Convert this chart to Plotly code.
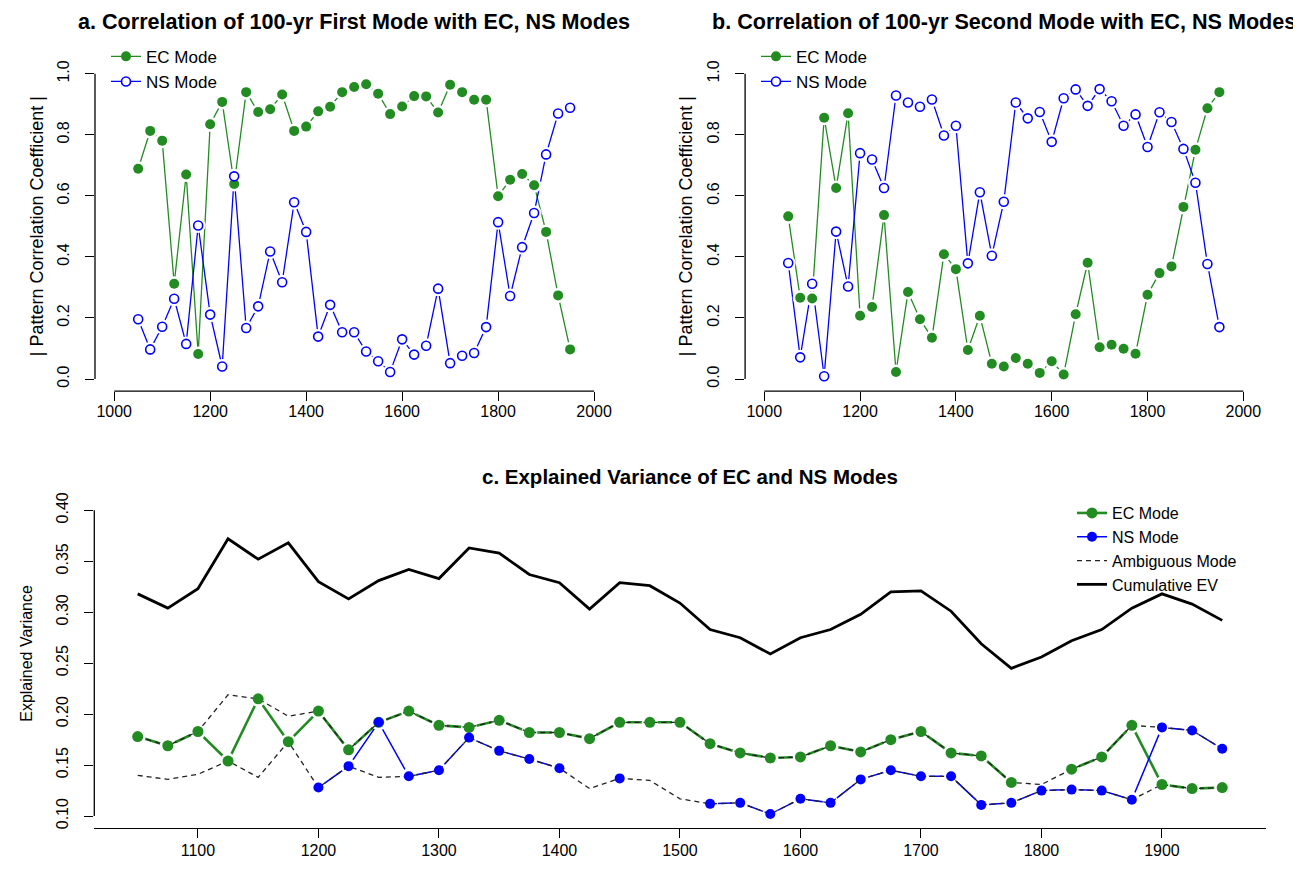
import plotly.graph_objects as go

# ---------------- data ----------------
years = list(range(1050, 1951, 25))

# panel a: |pattern correlation| of 100-yr first mode
a_ec = [0.689, 0.813, 0.781, 0.312, 0.670, 0.082, 0.835, 0.908, 0.639, 0.940,
        0.875, 0.884, 0.932, 0.813, 0.827, 0.877, 0.892, 0.940, 0.957, 0.966,
        0.935, 0.868, 0.893, 0.927, 0.926, 0.873, 0.964, 0.940, 0.915, 0.915,
        0.599, 0.653, 0.672, 0.635, 0.482, 0.274, 0.097]
a_ns = [0.196, 0.097, 0.171, 0.263, 0.115, 0.503, 0.211, 0.041, 0.664, 0.167,
        0.238, 0.418, 0.317, 0.579, 0.482, 0.139, 0.243, 0.153, 0.153, 0.090,
        0.058, 0.023, 0.130, 0.080, 0.109, 0.296, 0.052, 0.076, 0.085, 0.170,
        0.514, 0.272, 0.432, 0.544, 0.736, 0.870, 0.889]

# panel b: |pattern correlation| of 100-yr second mode
b_ec = [0.533, 0.266, 0.264, 0.856, 0.626, 0.871, 0.207, 0.236, 0.537, 0.023,
        0.285, 0.196, 0.135, 0.409, 0.360, 0.095, 0.207, 0.050, 0.041, 0.069,
        0.050, 0.020, 0.058, 0.015, 0.212, 0.381, 0.104, 0.112, 0.099, 0.083,
        0.276, 0.347, 0.369, 0.564, 0.751, 0.887, 0.940]
b_ns = [0.380, 0.071, 0.312, 0.009, 0.483, 0.303, 0.740, 0.719, 0.626, 0.929,
        0.906, 0.892, 0.916, 0.798, 0.830, 0.379, 0.612, 0.404, 0.581, 0.906,
        0.854, 0.875, 0.777, 0.920, 0.949, 0.895, 0.950, 0.910, 0.830, 0.867,
        0.760, 0.874, 0.842, 0.754, 0.643, 0.377, 0.170]

# panel c: explained variance
ev_mode1 = [0.178, 0.169, 0.183, 0.219, 0.215, 0.198, 0.203, 0.165, 0.192, 0.203,
            0.189, 0.187, 0.194, 0.182, 0.182, 0.176, 0.192, 0.192, 0.192, 0.171,
            0.162, 0.157, 0.158, 0.169, 0.163, 0.175, 0.183, 0.162, 0.159, 0.133,
            0.131, 0.146, 0.158, 0.189, 0.187, 0.184, 0.166]
ev_mode2 = [0.140, 0.136, 0.141, 0.154, 0.138, 0.173, 0.128, 0.149, 0.138, 0.139,
            0.145, 0.177, 0.164, 0.156, 0.147, 0.127, 0.137, 0.135, 0.117, 0.112,
            0.113, 0.102, 0.117, 0.113, 0.136, 0.145, 0.139, 0.139, 0.111, 0.113,
            0.125, 0.126, 0.125, 0.116, 0.131, 0.127, 0.128]
ev_ec = [0.178, 0.169, 0.183, 0.154, 0.215, 0.173, 0.203, 0.165, 0.192, 0.203,
         0.189, 0.187, 0.194, 0.182, 0.182, 0.176, 0.192, 0.192, 0.192, 0.171,
         0.162, 0.157, 0.158, 0.169, 0.163, 0.175, 0.183, 0.162, 0.159, 0.133,
         None, 0.146, 0.158, 0.189, 0.131, 0.127, 0.128]
ev_ns = [None, None, None, None, None, None, 0.128, 0.149, 0.192, 0.139,
         0.145, 0.177, 0.164, 0.156, 0.147, None, 0.137, None, None, 0.112,
         0.113, 0.102, 0.117, 0.113, 0.136, 0.145, 0.139, 0.139, 0.111, 0.113,
         0.125, 0.126, 0.125, 0.116, 0.187, 0.184, 0.166]
ev_cum = [0.318, 0.304, 0.323, 0.372, 0.352, 0.368, 0.330, 0.313, 0.331, 0.342,
          0.333, 0.363, 0.358, 0.337, 0.329, 0.303, 0.329, 0.326, 0.309, 0.283,
          0.275, 0.259, 0.275, 0.283, 0.298, 0.320, 0.321, 0.301, 0.269, 0.245,
          0.256, 0.272, 0.283, 0.304, 0.318, 0.308, 0.292]

corr_ticks = [0.0, 0.2, 0.4, 0.6, 0.8, 1.0]
corr_year_ticks = [1000, 1200, 1400, 1600, 1800, 2000]
ev_ticks = [0.10, 0.15, 0.20, 0.25, 0.30, 0.35, 0.40]
ev_year_ticks = [1100, 1200, 1300, 1400, 1500, 1600, 1700, 1800, 1900]

# ---------------- style ----------------
PAGE_W, PAGE_H = 1301, 870
OFF = 8                      # default body margin of the html page
W, H = PAGE_W - OFF, PAGE_H - OFF
GREEN = '#228B22'
BLUE = '#0000FF'
FONT = 'Liberation Sans, Arial, Helvetica, sans-serif'


def fx(p):
    return (p - OFF) / W


def fy(p):
    return 1 - (p - OFF) / H


fig = go.Figure()


def corr_panel(n, ec, ns, legend_name):
    xa, ya = 'x' + ('' if n == 1 else str(n)), 'y' + ('' if n == 1 else str(n))
    common = dict(xaxis=xa, yaxis=ya, hoverinfo='skip', showlegend=False)
    fig.add_trace(go.Scatter(x=years, y=ec, mode='lines',
                             line=dict(color=GREEN, width=1.3), **common))
    fig.add_trace(go.Scatter(x=years, y=ns, mode='lines',
                             line=dict(color=BLUE, width=1.3), **common))
    fig.add_trace(go.Scatter(x=years + years, y=ec + ns, mode='markers',
                             marker=dict(color='white', size=15, line=dict(width=0)),
                             **common))
    fig.add_trace(go.Scatter(x=years, y=ec, mode='markers',
                             marker=dict(color=GREEN, size=10, line=dict(width=0)),
                             **common))
    fig.add_trace(go.Scatter(x=years, y=ns, mode='markers',
                             marker=dict(color='white', size=9,
                                         line=dict(color=BLUE, width=1.6)),
                             **common))
    # legend entries
    fig.add_trace(go.Scatter(x=[None], y=[None], mode='lines+markers', name='EC Mode',
                             line=dict(color=GREEN, width=1.3),
                             marker=dict(color=GREEN, size=10),
                             xaxis=xa, yaxis=ya, legend=legend_name, showlegend=True))
    fig.add_trace(go.Scatter(x=[None], y=[None], mode='lines+markers', name='NS Mode',
                             line=dict(color=BLUE, width=1.3),
                             marker=dict(color='white', size=9,
                                         line=dict(color=BLUE, width=1.6)),
                             xaxis=xa, yaxis=ya, legend=legend_name, showlegend=True))


corr_panel(1, a_ec, a_ns, 'legend')
corr_panel(2, b_ec, b_ns, 'legend2')

# panel c
cc = dict(xaxis='x3', yaxis='y3', hoverinfo='skip')
fig.add_trace(go.Scatter(x=years, y=ev_ec, mode='lines', line=dict(color=GREEN, width=2.6),
                         showlegend=False, **cc))
fig.add_trace(go.Scatter(x=years, y=ev_ns, mode='lines', line=dict(color=BLUE, width=1.5),
                         showlegend=False, **cc))
fig.add_trace(go.Scatter(x=years + years, y=ev_ec + ev_ns, mode='markers',
                         marker=dict(color='white', size=16, line=dict(width=0)),
                         showlegend=False, **cc))
fig.add_trace(go.Scatter(x=years, y=ev_mode1, mode='lines', name='Ambiguous Mode',
                         line=dict(color='#222222', width=1.3, dash='5px,4px'),
                         legend='legend3', legendrank=3, showlegend=True, **cc))
fig.add_trace(go.Scatter(x=years, y=ev_mode2, mode='lines',
                         line=dict(color='#222222', width=1.3, dash='5px,4px'),
                         showlegend=False, **cc))
fig.add_trace(go.Scatter(x=years, y=ev_cum, mode='lines', name='Cumulative EV',
                         line=dict(color='black', width=2.8),
                         legend='legend3', legendrank=4, showlegend=True, **cc))
fig.add_trace(go.Scatter(x=years, y=ev_ec, mode='markers',
                         marker=dict(color=GREEN, size=11, line=dict(width=0)),
                         showlegend=False, **cc))
fig.add_trace(go.Scatter(x=years, y=ev_ns, mode='markers',
                         marker=dict(color=BLUE, size=10, line=dict(width=0)),
                         showlegend=False, **cc))
fig.add_trace(go.Scatter(x=[None], y=[None], mode='lines+markers', name='EC Mode',
                         line=dict(color=GREEN, width=2.6), marker=dict(color=GREEN, size=11),
                         legend='legend3', legendrank=1, showlegend=True, **cc))
fig.add_trace(go.Scatter(x=[None], y=[None], mode='lines+markers', name='NS Mode',
                         line=dict(color=BLUE, width=1.5), marker=dict(color=BLUE, size=10),
                         legend='legend3', legendrank=2, showlegend=True, **cc))

# ---------------- axes ----------------
tickfont = dict(family=FONT, size=16, color='black')

ydom_ab = [fy(388.3), fy(56)]
ydom_c = [fy(829), fy(496)]

base_axis = dict(showgrid=False, zeroline=False, showline=False, ticks='outside',
                 ticklen=9, tickwidth=1.3, tickcolor='black', fixedrange=True,
                 tickfont=tickfont)

layout = dict(
    width=W, height=H, plot_bgcolor='white', paper_bgcolor='white',
    margin=dict(l=0, r=0, t=0, b=0),
    font=dict(family=FONT, color='black'),
    xaxis=dict(domain=[fx(95), fx(613.3)], range=[960, 2040], tickvals=corr_year_ticks,
               anchor='y', ticklabelstandoff=-3, **base_axis),
    yaxis=dict(domain=ydom_ab, range=[-0.04, 1.04], tickvals=corr_ticks, tickformat='.1f',
               tickangle=-90, anchor='x', ticklabelstandoff=10, **base_axis),
    xaxis2=dict(domain=[fx(745.1), fx(1262.5)], range=[960, 2040], tickvals=corr_year_ticks,
                anchor='y2', ticklabelstandoff=-3, **base_axis),
    yaxis2=dict(domain=ydom_ab, range=[-0.04, 1.04], tickvals=corr_ticks, tickformat='.1f',
                tickangle=-90, anchor='x2', ticklabelstandoff=10, **base_axis),
    xaxis3=dict(domain=[fx(94.3), fx(1265.6)], range=[1014, 1986], tickvals=ev_year_ticks,
                anchor='y3', ticklabelstandoff=-2,
                **dict(base_axis, showline=True, linecolor='black', linewidth=1.3)),
    yaxis3=dict(domain=ydom_c, range=[0.088, 0.412], tickvals=ev_ticks, tickformat='.2f',
                tickangle=-90, anchor='x3', ticklabelstandoff=10, **base_axis),
    legend=dict(x=fx(106), y=fy(33), xanchor='left', yanchor='top', bgcolor='rgba(0,0,0,0)',
                font=dict(family=FONT, size=17), itemwidth=30, tracegroupgap=0),
    legend2=dict(x=fx(756), y=fy(33), xanchor='left', yanchor='top', bgcolor='rgba(0,0,0,0)',
                 font=dict(family=FONT, size=17), itemwidth=30, tracegroupgap=0),
    legend3=dict(x=fx(1072), y=fy(494), xanchor='left', yanchor='top', bgcolor='rgba(0,0,0,0)',
                 font=dict(family=FONT, size=16), itemwidth=30, tracegroupgap=0,
                 traceorder='normal'),
)
fig.update_layout(**layout)

# R-style axis lines spanning the tick range only
axis_line = dict(color='black', width=1.3)
shapes = []
for xr, yr in (('x', 'y'), ('x2', 'y2')):
    shapes.append(dict(type='line', xref=xr, yref=yr + ' domain', x0=corr_year_ticks[0],
                       x1=corr_year_ticks[-1], y0=0, y1=0, line=axis_line))
    shapes.append(dict(type='line', xref=xr + ' domain', yref=yr, x0=0, x1=0,
                       y0=corr_ticks[0], y1=corr_ticks[-1], line=axis_line))
shapes.append(dict(type='line', xref='x3 domain', yref='y3', x0=0, x1=0,
                   y0=ev_ticks[0], y1=ev_ticks[-1], line=axis_line))
fig.update_layout(shapes=shapes)

# titles
ann = [
    dict(text='<b>a. Correlation of 100-yr First Mode with EC, NS Modes</b>',
         x=fx(354), y=fy(16), font=dict(family=FONT, size=21.6, color='black')),
    dict(text='<b>b. Correlation of 100-yr Second Mode with EC, NS Modes</b>',
         x=fx(1004), y=fy(16), font=dict(family=FONT, size=21.6, color='black')),
    dict(text='<b>c. Explained Variance of EC and NS Modes</b>',
         x=fx(690), y=fy(474), font=dict(family=FONT, size=20.5, color='black')),
    dict(text='| Pattern Correlation Coefficient |', x=fx(37), y=fy(222), textangle=-90,
         font=dict(family=FONT, size=18, color='black')),
    dict(text='| Pattern Correlation Coefficient |', x=fx(686), y=fy(222), textangle=-90,
         font=dict(family=FONT, size=18, color='black')),
    dict(text='Explained Variance', x=fx(27), y=fy(653), textangle=-90,
         font=dict(family=FONT, size=16, color='black')),
]
for a in ann:
    a.update(xref='paper', yref='paper', showarrow=False, xanchor='center', yanchor='middle')
fig.update_layout(annotations=ann)

fig.write_html('out.html')
